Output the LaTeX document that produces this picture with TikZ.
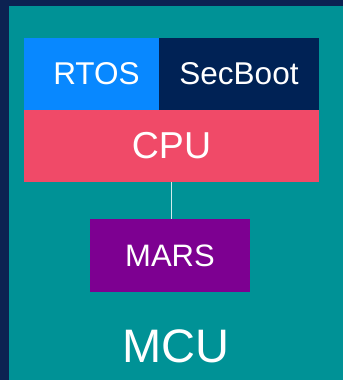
\documentclass[tikz,border=0pt]{standalone}
\usepackage{fontspec}
\setmainfont{Liberation Sans}
\definecolor{frame}{RGB}{12,34,82}
\definecolor{board}{RGB}{0,146,150}
\definecolor{rtosblue}{RGB}{8,136,255}
\definecolor{bootnavy}{RGB}{0,34,85}
\definecolor{cpured}{RGB}{240,74,104}
\definecolor{marspurple}{RGB}{125,0,145}
\definecolor{wire}{RGB}{210,236,236}
\tikzset{
  block/.style={rectangle, inner sep=0pt, outer sep=0pt, text=white, anchor=north west},
  fsz/.style={font=\fontsize{#1}{#1}\selectfont},
}
\begin{document}
\begin{tikzpicture}[x=1pt, y=-1pt]
  % canvas and microcontroller board
  \fill[frame] (0,0) rectangle (343,380);
  \useasboundingbox (0,0) rectangle (343,380);
  \fill[board] (9,6) rectangle (343,380);

  % software stack on the CPU
  \node[block, fill=rtosblue, minimum width=135, minimum height=72, fsz=31.5] (rtos) at (24,38) {\hspace{10pt}RTOS};
  \node[block, fill=bootnavy, minimum width=160, minimum height=72, fsz=31.5] (secboot) at (159,38) {SecBoot};
  \node[block, fill=cpured, minimum width=295, minimum height=72, fsz=37.5] (cpu) at (24,110) {CPU};

  % MARS unit below the CPU
  \node[block, fill=marspurple, minimum width=160, minimum height=73, fsz=31] (mars) at (90,219) {MARS};

  \draw[wire, line width=1pt] ([xshift=-0.5pt]cpu.south) -- ([xshift=-0.5pt]cpu.south |- mars.north);

  % board label
  \node[text=white, fsz=47, inner sep=0pt] (mcu) at (176,346) {MCU};
\end{tikzpicture}
\end{document}
